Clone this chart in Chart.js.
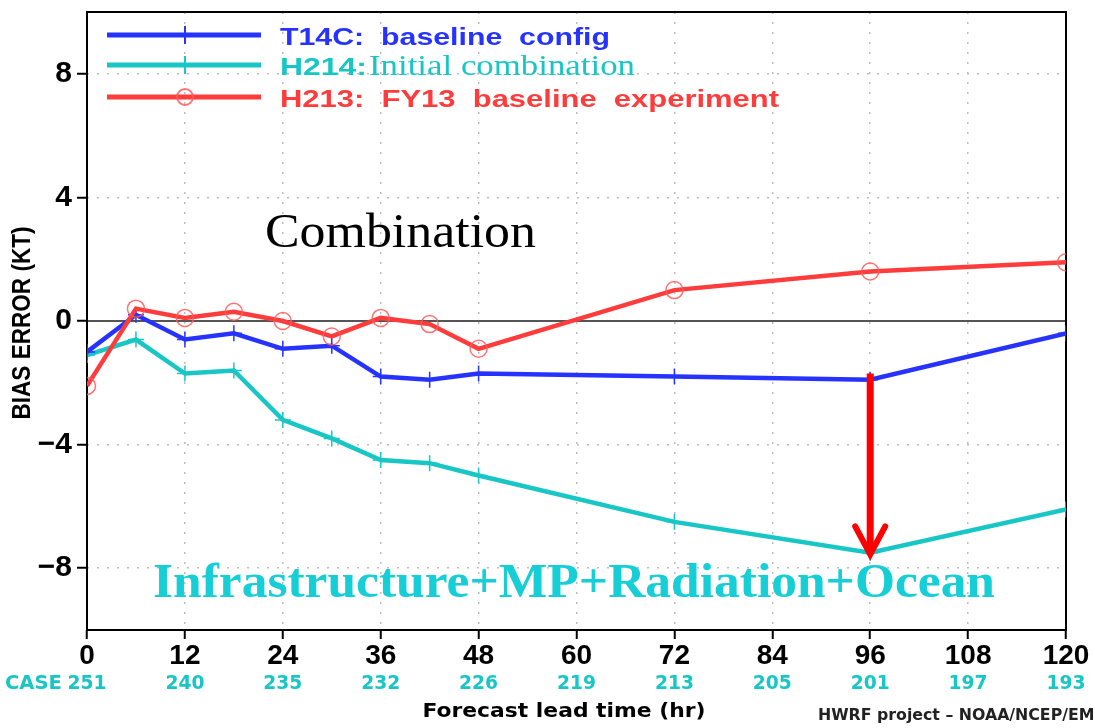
<!DOCTYPE html>
<html>
<head>
<meta charset="utf-8">
<script src="https://cdn.jsdelivr.net/npm/chart.js@4.4.1/dist/chart.umd.min.js"></script>
<style>
html,body{margin:0;padding:0;background:#fff;overflow:hidden}
#wrap{width:1095px;height:728px;position:relative;background:#fff}
canvas{display:block}
</style>
</head>
<body>
<div id="wrap"><canvas id="c" width="1095" height="728"></canvas></div>
<script>
// ---- data ----
const leadTimes = [0, 6, 12, 18, 24, 30, 36, 42, 48, 72, 96, 120];
const t14c = [-1.0, 0.2, -0.6, -0.4, -0.9, -0.8, -1.8, -1.9, -1.7, -1.8, -1.9, -0.4];
const h214 = [-1.1, -0.6, -1.7, -1.6, -3.2, -3.8, -4.5, -4.6, -5.0, -6.5, -7.5, -6.1];
const h213 = [-2.1, 0.4, 0.1, 0.3, 0.0, -0.5, 0.1, -0.1, -0.9, 1.0, 1.6, 1.9];
const seriesLabels = ["T14C:  baseline  config", "H214:Initial combination", "H213:  FY13  baseline  experiment"];
const xTicks = [0, 12, 24, 36, 48, 60, 72, 84, 96, 108, 120];
const caseCounts = [251, 240, 235, 232, 226, 219, 213, 205, 201, 197, 193];
const yTicks = [-8, -4, 0, 4, 8];
const arrowAt = {x: 96, from: -1.7, to: -7.55};
const annoTop = "Combination";
const annoBottom = "Infrastructure+MP+Radiation+Ocean";

const BLUE = '#2633ff', CYAN = '#19c6c6', RED = '#ff3c3c';

function fitText(ctx, text, x, y, width, align) {
  const w = ctx.measureText(text).width;
  const s = width / w;
  ctx.save();
  ctx.translate(x, y);
  ctx.scale(s, 1);
  ctx.textAlign = 'left';
  const sx = align === 'center' ? -w / 2 : (align === 'right' ? -w : 0);
  ctx.fillText(text, sx, 0);
  ctx.restore();
}

const framePlugin = {
  id: 'frame',
  beforeDatasetsDraw(chart) {
    const {ctx, chartArea: a, scales: {y}} = chart;
    ctx.save();
    const y0 = y.getPixelForValue(0);
    ctx.strokeStyle = '#555';
    ctx.lineWidth = 2;
    ctx.beginPath(); ctx.moveTo(a.left, y0); ctx.lineTo(a.right, y0); ctx.stroke();
    ctx.strokeStyle = '#000';
    ctx.lineWidth = 2;
    ctx.strokeRect(a.left, a.top, a.right - a.left, a.bottom - a.top);
    ctx.restore();
  },
  afterDatasetsDraw(chart) {
    const {ctx, scales: {x, y}} = chart;
    ctx.save();
    // arrow
    const ax = x.getPixelForValue(arrowAt.x);
    const ay1 = y.getPixelForValue(arrowAt.from);
    const ay2 = y.getPixelForValue(arrowAt.to);
    ctx.strokeStyle = '#ff0000';
    ctx.lineWidth = 7;
    ctx.beginPath(); ctx.moveTo(ax, ay1); ctx.lineTo(ax, ay2 - 4); ctx.stroke();
    ctx.lineWidth = 6; ctx.lineCap = 'round'; ctx.lineJoin = 'miter';
    ctx.beginPath();
    ctx.moveTo(ax - 15, ay2 - 28); ctx.lineTo(ax, ay2); ctx.lineTo(ax + 15, ay2 - 28);
    ctx.stroke();

    // annotations
    ctx.fillStyle = '#000';
    ctx.font = '48px "Liberation Serif"';
    ctx.textBaseline = 'alphabetic';
    fitText(ctx, annoTop, 265, 247, 271, 'left');
    ctx.fillStyle = '#16cfd6';
    ctx.font = 'bold 49px "Liberation Serif"';
    fitText(ctx, annoBottom, 153, 597, 842, 'left');

    // legend
    const rows = [35, 65, 97];
    const widths = [330, 87, 499];
    chart.data.datasets.forEach((ds, i) => {
      const ry = rows[i];
      ctx.strokeStyle = ds.borderColor;
      ctx.lineWidth = 5;
      ctx.lineCap = 'butt';
      ctx.beginPath(); ctx.moveTo(107, ry); ctx.lineTo(261, ry); ctx.stroke();
      if (ds.pointStyle === 'circle') {
        ctx.strokeStyle = ds.pointBorderColor; ctx.lineWidth = 2;
        ctx.beginPath(); ctx.arc(185, ry, 8, 0, Math.PI * 2); ctx.stroke();
      } else {
        ctx.lineWidth = 2;
        ctx.beginPath(); ctx.moveTo(185, ry - 9); ctx.lineTo(185, ry + 9);
        ctx.moveTo(179, ry); ctx.lineTo(191, ry); ctx.stroke();
      }
      ctx.fillStyle = ds.borderColor;
      ctx.font = 'bold 24px "Liberation Sans"';
      const label = ds.label;
      const m = label.match(/^([^:]+:)(\S.*)$/);
      if (m) {
        fitText(ctx, m[1], 280, ry + 9.5, widths[i], 'left');
        ctx.font = '30px "Liberation Serif"';
        fitText(ctx, m[2], 369, ry + 10, 266, 'left');
      } else {
        fitText(ctx, label, 280, ry + 9.5, widths[i], 'left');
      }
    });
    ctx.restore();
  },
  afterDraw(chart) {
    const {ctx, scales: {x}} = chart;
    ctx.save();
    ctx.fillStyle = CYAN;
    ctx.font = 'bold 19px "DejaVu Sans"';
    ctx.textBaseline = 'alphabetic';
    xTicks.forEach((t, i) => {
      const px = x.getPixelForValue(t);
      fitText(ctx, String(caseCounts[i]), px, 689, 39, 'center');
    });
    fitText(ctx, 'CASE', 62, 689, 57, 'right');
    ctx.fillStyle = '#000';
    ctx.font = 'bold 20px "DejaVu Sans"';
    fitText(ctx, 'Forecast lead time (hr)', 564, 717, 283, 'center');
    ctx.save();
    ctx.translate(30, 323);
    ctx.rotate(-Math.PI / 2);
    ctx.font = 'bold 25px "Liberation Sans"';
    fitText(ctx, 'BIAS ERROR (KT)', 0, 0, 193, 'center');
    ctx.restore();
    ctx.fillStyle = '#222';
    ctx.font = 'bold 15px "DejaVu Sans"';
    fitText(ctx, 'HWRF project \u2013 NOAA/NCEP/EMC', 818, 720, 288, 'left');
    ctx.restore();
  }
};

const mk = (arr) => leadTimes.map((t, i) => ({x: t, y: arr[i]}));

new Chart(document.getElementById('c'), {
  type: 'line',
  data: {
    datasets: [
      {label: seriesLabels[0], data: mk(t14c), borderColor: BLUE, borderWidth: 4.5,
       pointStyle: 'cross', pointRadius: 8, pointBorderWidth: 1.5, pointBorderColor: BLUE,
       tension: 0, order: 1},
      {label: seriesLabels[1], data: mk(h214), borderColor: CYAN, borderWidth: 4.5,
       pointStyle: 'cross', pointRadius: 8, pointBorderWidth: 1.5, pointBorderColor: CYAN,
       tension: 0, order: 2},
      {label: seriesLabels[2], data: mk(h213), borderColor: RED, borderWidth: 4.5,
       pointStyle: 'circle', pointRadius: 8.5, pointBorderWidth: 1.5,
       pointBorderColor: 'rgba(255,90,90,0.85)', pointBackgroundColor: 'rgba(0,0,0,0)',
       tension: 0, order: 0}
    ]
  },
  options: {
    responsive: false,
    animation: false,
    devicePixelRatio: 1,
    layout: {padding: {top: 12, right: 29, left: 0, bottom: 0}},
    plugins: {legend: {display: false}, tooltip: {enabled: false}},
    scales: {
      x: {
        type: 'linear', min: 0, max: 120,
        afterBuildTicks: s => { s.ticks = xTicks.map(v => ({value: v})); },
        afterFit: s => { s.height = 98; s.paddingLeft = 0; s.paddingRight = 0; },
        border: {display: false, dash: [2, 8]},
        grid: {color: '#bdbdbd', lineWidth: 1.5, tickLength: 9, tickColor: '#000', tickWidth: 2, tickBorderDash: []},
        ticks: {color: '#000', padding: 0, maxRotation: 0, autoSkip: false,
                font: {family: 'Liberation Sans', weight: 'bold', size: 28, lineHeight: 1.2}}
      },
      y: {
        min: -10, max: 10,
        afterBuildTicks: s => { s.ticks = yTicks.map(v => ({value: v})); },
        afterFit: s => { s.width = 87; s.paddingTop = 0; s.paddingBottom = 0; },
        border: {display: false, dash: [2, 8]},
        grid: {color: '#bdbdbd', lineWidth: 1.5, tickLength: 10, tickColor: '#000', tickWidth: 2, tickBorderDash: []},
        ticks: {color: '#000', padding: 5,
                font: {family: 'Liberation Sans', weight: 'bold', size: 30},
                callback: v => v < 0 ? '\u2212' + Math.abs(v) : String(v)}
      }
    }
  },
  plugins: [framePlugin]
});
</script>
</body>
</html>
